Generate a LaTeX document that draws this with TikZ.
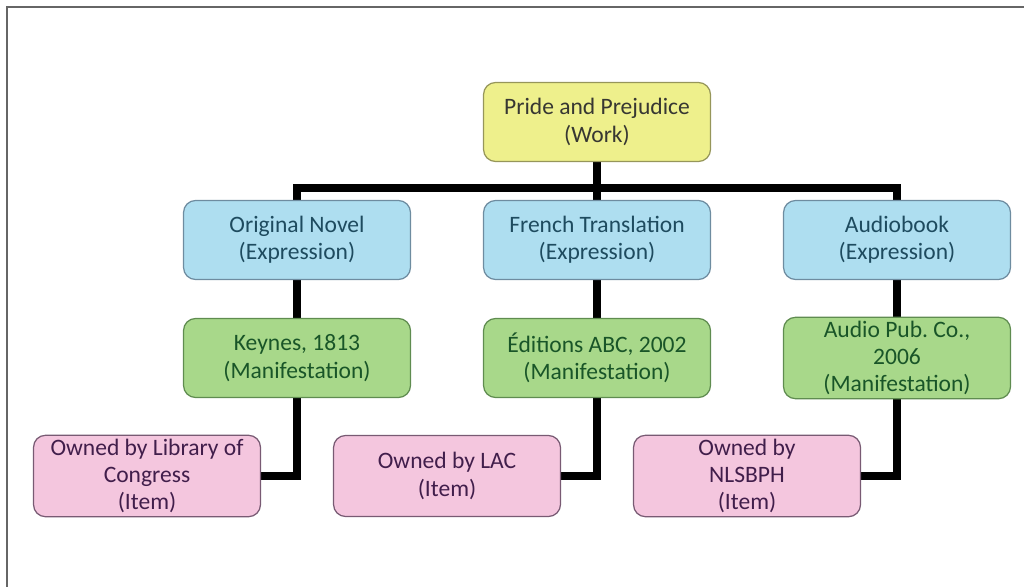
\documentclass[tikz,border=0pt]{standalone}
\usepackage{fontspec}
\setmainfont{Carlito}
\frenchspacing
\usetikzlibrary{backgrounds}

\definecolor{workfill}{RGB}{238,240,140}
\definecolor{workline}{RGB}{150,150,90}
\definecolor{worktext}{RGB}{55,55,50}
\definecolor{exprfill}{RGB}{174,222,240}
\definecolor{exprline}{RGB}{110,140,160}
\definecolor{exprtext}{RGB}{30,75,95}
\definecolor{manifill}{RGB}{168,216,138}
\definecolor{maniline}{RGB}{95,140,80}
\definecolor{manitext}{RGB}{25,85,40}
\definecolor{itemfill}{RGB}{244,198,222}
\definecolor{itemline}{RGB}{120,90,115}
\definecolor{itemtext}{RGB}{65,30,75}

\tikzset{
  frbox/.style={draw, rounded corners=0.24cm, align=center, minimum width=4.54cm,
    minimum height=1.58cm, line width=0.7pt, inner sep=2pt,
    font=\fontsize{13.4}{15.6}\selectfont},
  workbox/.style={frbox, fill=workfill, draw=workline, text=worktext},
  exprbox/.style={frbox, fill=exprfill, draw=exprline, text=exprtext},
  manibox/.style={frbox, fill=manifill, draw=maniline, text=manitext},
  itembox/.style={frbox, fill=itemfill, draw=itemline, text=itemtext, minimum height=1.62cm},
  link/.style={line width=4pt, black}
}

\begin{document}
\begin{tikzpicture}[x=0.02cm, y=-0.02cm]
\useasboundingbox (0,0) rectangle (1024,587);
\draw[gray!80!black, line width=1.4pt] (7,587) -- (7,7) -- (1024,7);

\node[workbox] (work) at (597,122) {Pride and Prejudice\\(Work)};

\node[exprbox] (novel) at (297,240) {Original Novel\\(Expression)};
\node[exprbox] (french) at (597,240) {French Translation\\(Expression)};
\node[exprbox] (audio) at (897,240) {Audiobook\\(Expression)};

\node[manibox] (keynes) at (297,358) {Keynes, 1813\\(Manifestation)};
\node[manibox] (abc) at (597,358) {Éditions ABC, 2002\\(Manifestation)};
\node[manibox] (audiopub) at (897,358) {Audio Pub. Co.,\\2006\\(Manifestation)};

\node[itembox] (loc) at (147,476) {Owned by Library of\\Congress\\(Item)};
\node[itembox] (lac) at (447,476) {Owned by LAC\\(Item)};
\node[itembox] (nls) at (747,476) {Owned by\\NLSBPH\\(Item)};

\coordinate (bar) at (597,188);

\begin{scope}[on background layer]
\draw[link] (work) -- (bar);
\draw[link] (novel.north) |- (bar) -| (audio.north);
\draw[link] (bar) -- (french.north);
\draw[link] (novel) -- (keynes);
\draw[link] (french) -- (abc);
\draw[link] (audio) -- (audiopub);
\draw[link] (keynes.south) |- (loc.east);
\draw[link] (abc.south) |- (lac.east);
\draw[link] (audiopub.south) |- (nls.east);
\end{scope}
\end{tikzpicture}
\end{document}
